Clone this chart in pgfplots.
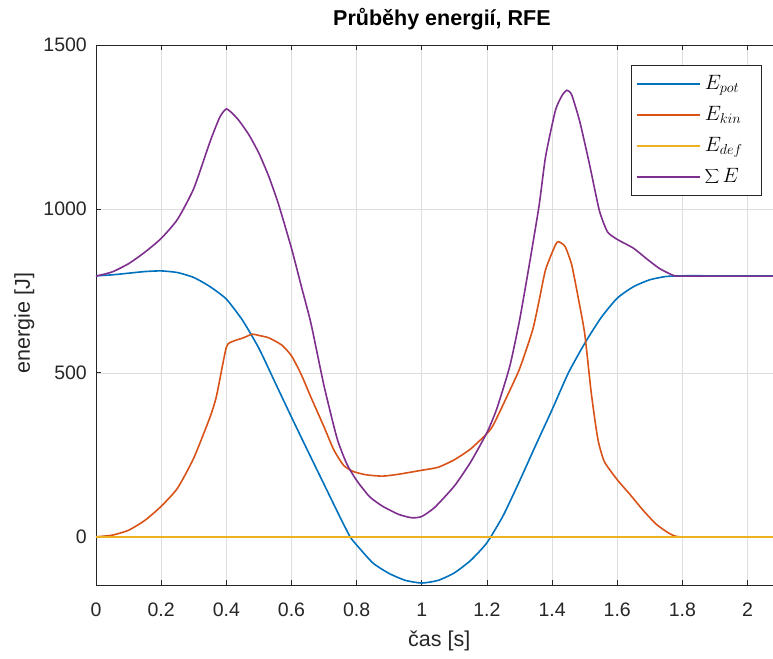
\documentclass[border=0pt]{standalone}
\usepackage{fontspec}
\setmainfont{Liberation Sans}
\usepackage{pgfplots}
\pgfplotsset{compat=1.18}
\definecolor{mblue}{rgb}{0,0.447,0.741}
\definecolor{morange}{rgb}{0.85,0.325,0.098}
\definecolor{myellow}{rgb}{0.929,0.694,0.125}
\definecolor{mpurple}{rgb}{0.494,0.184,0.556}
\definecolor{axgray}{rgb}{0.15,0.15,0.15}
\begin{document}
\begin{tikzpicture}
\useasboundingbox (0,0) rectangle (773pt,658pt);
\begin{axis}[
  at={(96pt,73pt)}, anchor=south west,
  scale only axis, width=677pt, height=540pt,
  xmin=0, xmax=2.078, ymin=-147, ymax=1500,
  axis y line*=left,
  xtick={0,0.2,0.4,0.6,0.8,1,1.2,1.4,1.6,1.8,2},
  ytick={0,500,1000,1500},
  /pgf/number format/1000 sep={},
  /pgf/number format/assume math mode=true,
  tick align=inside, major tick length=5pt,
  tick style={draw=axgray, line width=0.8pt},
  axis line style={draw=axgray, line width=0.8pt},
  grid=major,
  major grid style={draw=black!13, line width=0.6pt},
  ticklabel style={font=\fontsize{19.5}{23}\selectfont, text=axgray},
  xticklabel style={anchor=base, inner sep=0pt, yshift=-31.5pt},
  yticklabel style={anchor=east, inner sep=0pt, xshift=-9pt},
  title={Průběhy energií, RFE},
  title style={font=\fontsize{21.5}{26}\selectfont\bfseries, at={(axis description cs:0.511,1)}, anchor=base, yshift=13pt, inner sep=0pt},
  xlabel={čas [s]},
  xlabel style={font=\fontsize{21.5}{26}\selectfont, text=axgray, at={(axis description cs:0.507,0)}, anchor=base, yshift=-61pt, inner sep=0pt},
  ylabel={energie [J]},
  ylabel style={font=\fontsize{21.5}{26}\selectfont, text=axgray, at={(axis description cs:-0.121,0.485)}, anchor=north, rotate=0, inner sep=0pt},
  legend style={at={(0.984,0.963)}, anchor=north east, draw=axgray, line width=0.8pt, fill=white,
    inner xsep=5pt, inner ysep=6.75pt, row sep=7.5pt, column sep=4pt,
    font=\fontsize{21}{25}\selectfont,
    nodes={inner sep=0pt, text height=17pt, text depth=6.5pt}},
  legend cell align=left,
  legend image code/.code={\draw[#1] (0pt,0pt) -- (63pt,0pt);},
  every axis plot/.append style={line width=1.6pt, smooth, tension=0.35},
]
% E_pot
\addplot[color=mblue] coordinates {
(0,796) (0.05,799) (0.1,804) (0.15,809) (0.2,811) (0.25,806) (0.3,791) (0.35,763)
(0.4,725) (0.45,660) (0.5,575) (0.55,470) (0.6,365) (0.65,262) (0.7,160) (0.75,58)
(0.78,0) (0.8,-25) (0.85,-80) (0.9,-112) (0.95,-133) (1.0,-141) (1.05,-133) (1.1,-110)
(1.15,-72) (1.2,-18) (1.25,65) (1.3,170) (1.35,280) (1.4,388) (1.45,500) (1.5,590)
(1.55,668) (1.6,728) (1.65,763) (1.7,784) (1.75,794) (1.8,796) (1.9,796) (2.1,796)
};
\addlegendentry{\makebox[52pt][l]{$E_{pot}$}}
% E_kin
\addplot[color=morange] coordinates {
(0,0) (0.05,5) (0.1,20) (0.15,50) (0.2,93) (0.25,148) (0.3,240) (0.35,365) (0.37,430)
(0.4,578) (0.42,596) (0.45,606) (0.48,618) (0.5,614) (0.53,607) (0.57,585) (0.6,552)
(0.63,495) (0.66,425) (0.7,335) (0.73,265) (0.76,218) (0.79,199) (0.83,189) (0.88,185)
(0.93,191) (1.0,203) (1.05,212) (1.1,235) (1.15,268) (1.2,315) (1.22,342) (1.26,425)
(1.3,512) (1.34,630) (1.36,720) (1.38,815) (1.41,890) (1.42,900) (1.44,885) (1.46,830)
(1.48,730) (1.5,620) (1.52,440) (1.54,300) (1.56,230) (1.6,174) (1.64,128) (1.68,80)
(1.72,38) (1.76,10) (1.79,0) (1.9,0) (2.1,0)
};
\addlegendentry{\makebox[52pt][l]{$E_{kin}$}}
% E_def
\addplot[color=myellow] coordinates {
(0,0) (0.5,0) (1,0) (1.5,0) (2.1,0)
};
\addlegendentry{\makebox[52pt][l]{$E_{def}$}}
% sum E
\addplot[color=mpurple] coordinates {
(0,795) (0.05,808) (0.1,833) (0.15,868) (0.2,910) (0.25,968) (0.3,1062) (0.35,1205)
(0.38,1280) (0.4,1305) (0.42,1290) (0.44,1268) (0.47,1225) (0.5,1170) (0.53,1100)
(0.56,1015) (0.6,880) (0.63,765) (0.66,650) (0.7,460) (0.74,300) (0.77,222) (0.8,172)
(0.84,122) (0.88,93) (0.93,68) (0.97,58) (1.0,62) (1.04,90) (1.1,155) (1.15,228)
(1.2,318) (1.23,390) (1.27,520) (1.3,660) (1.33,830) (1.36,1010) (1.38,1160) (1.41,1300)
(1.43,1345) (1.445,1362) (1.46,1348) (1.485,1266) (1.515,1135) (1.545,995) (1.57,930)
(1.6,907) (1.65,880) (1.69,848) (1.73,818) (1.77,798) (1.79,795) (1.9,795) (2.1,795)
};
\addlegendentry{\makebox[52pt][l]{$\displaystyle\sum E$}}
\end{axis}
\end{tikzpicture}
\end{document}
